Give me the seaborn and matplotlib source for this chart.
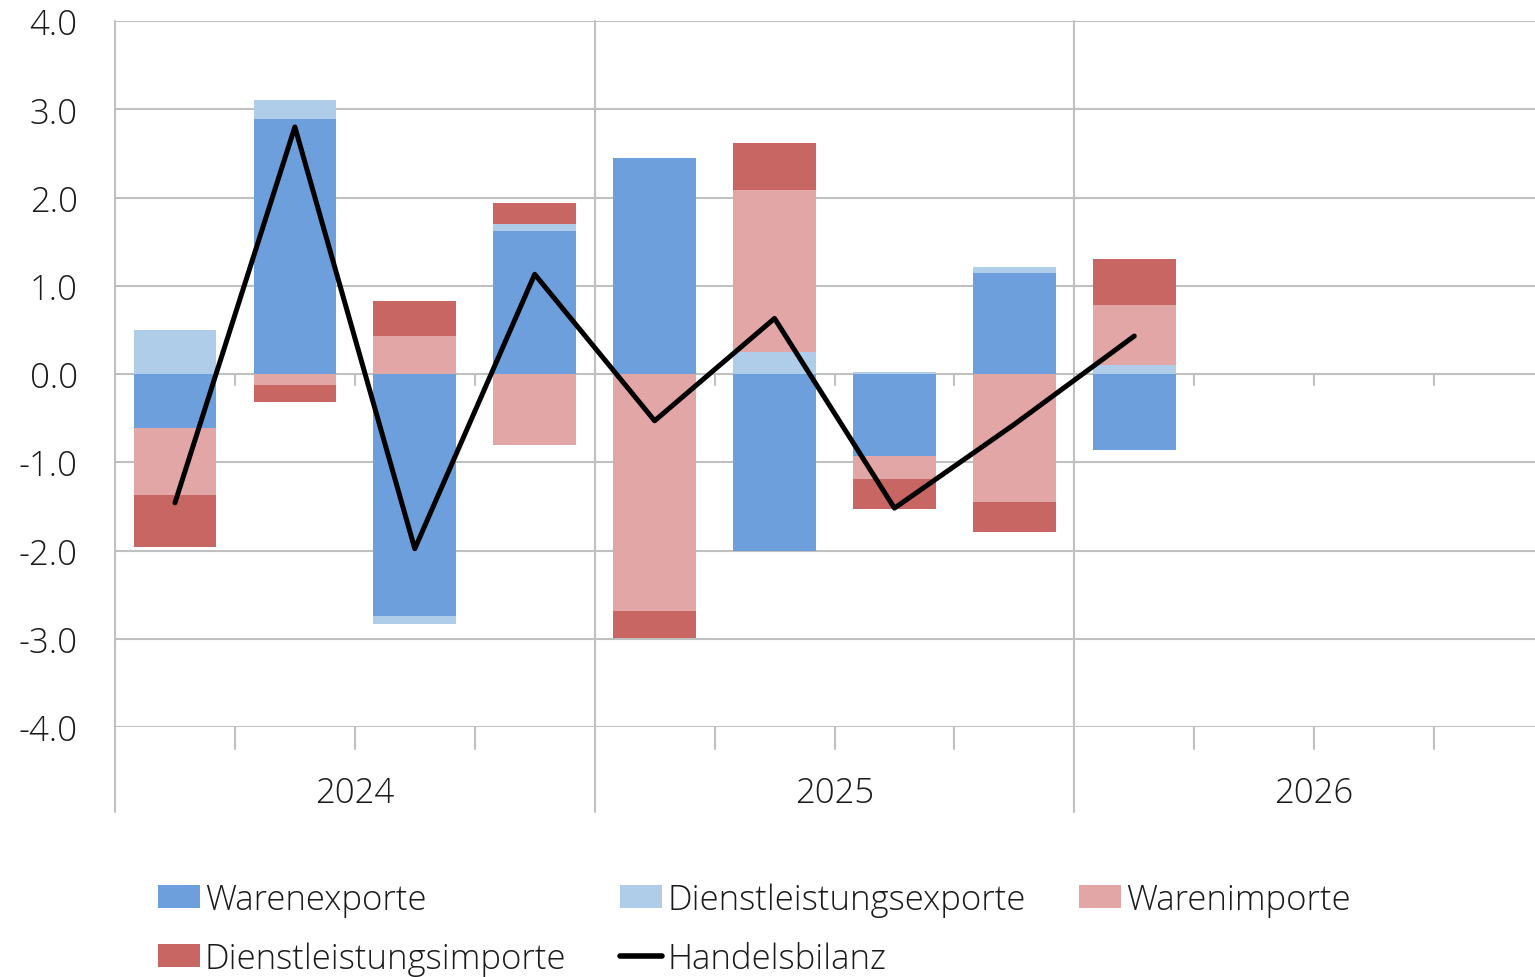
import numpy as np
import matplotlib.pyplot as plt
import matplotlib.transforms as mtransforms
from matplotlib.patches import Patch
from matplotlib.lines import Line2D
import seaborn as sns

# Quartale 2024Q1 .. 2026Q4 (Daten bis 2026Q1)
years = ["2024", "2025", "2026"]
n_slots = 12

warenexporte = [-0.61, 2.89, -2.74, 1.62, 2.45, -2.00, -0.93, 1.15, -0.86]
dl_exporte = [0.50, 0.22, -0.09, 0.08, 0.00, 0.25, 0.02, 0.06, 0.10]
warenimporte = [-0.76, -0.12, 0.43, -0.80, -2.69, 1.84, -0.26, -1.45, 0.68]
dl_importe = [-0.59, -0.20, 0.40, 0.24, -0.30, 0.53, -0.34, -0.34, 0.52]
handelsbilanz = [-1.46, 2.80, -1.98, 1.13, -0.53, 0.63, -1.52, -0.57, 0.43]

series = [
    ("Warenexporte", warenexporte, "#6c9fdb"),
    ("Dienstleistungsexporte", dl_exporte, "#afcce9"),
    ("Warenimporte", warenimporte, "#e1a6a5"),
    ("Dienstleistungsimporte", dl_importe, "#c86663"),
]

sns.set_style("white")
plt.rcParams['font.family'] = ['Open Sans', 'DejaVu Sans']
plt.rcParams['font.weight'] = 'light'
plt.rcParams['font.size'] = 25
text_col = "#1a1a1a"
grid_col = "#c0c0c0"

W, H = 1535, 978
fig = plt.figure(figsize=(W / 100, H / 100), dpi=100)
left, right, top, bottom = 115, 1554, 22, 728
ax = fig.add_axes([left / W, 1 - bottom / H, (right - left) / W, (bottom - top) / H])

x = np.arange(len(handelsbilanz))
pos_base = np.zeros(len(x))
neg_base = np.zeros(len(x))
for name, vals, col in series:
    v = np.array(vals)
    b = np.where(v >= 0, pos_base, neg_base)
    ax.bar(x, v, bottom=b, width=0.69, color=col, linewidth=0, zorder=2)
    pos_base += np.where(v >= 0, v, 0)
    neg_base += np.where(v < 0, v, 0)

sns.lineplot(x=x, y=handelsbilanz, ax=ax, color="black", linewidth=3.6,
             zorder=4, legend=False)

ax.set_xlim(-0.5, n_slots - 0.5)
ax.set_ylim(-4, 4)
ax.set_yticks(np.arange(-4, 5, 1))
ax.set_yticklabels([f"{v:.1f}" for v in np.arange(-4, 5, 1)], color=text_col)
ax.tick_params(axis="y", length=10, width=1.5, color=grid_col, pad=17)
ax.tick_params(axis="x", length=0, labelbottom=False)
ax.yaxis.grid(True, color=grid_col, linewidth=1.5, zorder=0)
ax.set_axisbelow(True)
for s in ax.spines.values():
    s.set_visible(False)

trans = mtransforms.blended_transform_factory(ax.transData, ax.transAxes)
# Jahrestrennlinien
for k in range(0, n_slots + 1, 4):
    ax.plot([k - 0.5, k - 0.5], [1, -0.12], transform=trans, color=grid_col,
            linewidth=1.5, clip_on=False, zorder=1)
# Quartalsstriche unten und an der Nulllinie
for k in range(1, n_slots):
    if k % 4 == 0:
        continue
    ax.plot([k - 0.5, k - 0.5], [0, -0.031], transform=trans, color=grid_col,
            linewidth=1.5, clip_on=False, zorder=1)
    ax.plot([k - 0.5, k - 0.5], [0, -0.13], color=grid_col, linewidth=1.5, zorder=1)

for i, y in enumerate(years):
    ax.text(4 * i + 1.5, -0.093, y, transform=trans, ha="center", va="center",
            color=text_col, fontsize=25)

handles = [Patch(facecolor=c, edgecolor="none") for _, _, c in series]
handles.append(Line2D([0], [0], color="black", linewidth=4))
labels = [s[0] for s in series] + ["Handelsbilanz"]
# zeilenweise Reihenfolge bei ncol=3
order = [0, 3, 1, 4, 2]
fig.legend([handles[i] for i in order], [labels[i] for i in order],
           loc="upper left", bbox_to_anchor=(158 / W, 1 - 883 / H),
           ncol=3, frameon=False, fontsize=25, borderpad=0, borderaxespad=0,
           handlelength=1.21, handleheight=0.63, handletextpad=0.14,
           columnspacing=1.55, labelspacing=0.72, labelcolor=text_col)

fig.savefig("out.png", dpi=100)
